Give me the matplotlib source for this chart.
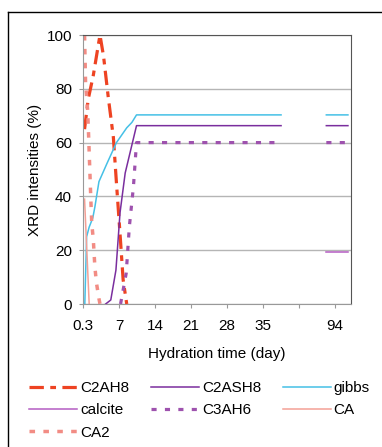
import matplotlib
matplotlib.use("Agg")
import matplotlib.pyplot as plt
from matplotlib.lines import Line2D
import numpy as np

nan = np.nan

# axis positions: 0..35 are days, 49 stands for day 94 (broken axis, Excel style)
tick_pos = [0, 7, 14, 21, 28, 35, 42, 49]
tick_labels = ["0.3", "7", "14", "21", "28", "35", "", "94"]

c2ah8_day = [0.3, 1.0, 2.0, 3.3, 4.0, 4.9, 5.9, 6.5, 7.2, 7.8, 8.5]
c2ah8_val = [65, 76, 85, 100, 92, 77, 62, 45, 26, 9, 0]

c2ash8_day = [4.4, 5.4, 6.4, 7.2, 8.2, 10.4, 38.5, nan, 47.3, 51.5]
c2ash8_val = [0, 1.5, 12.6, 34, 48.7, 66.3, 66.3, nan, 66.3, 66.3]

gibbs_day = [0.35, 0.7, 1.2, 1.9, 2.3, 3.1, 4.6, 6.5, 8.5, 9.5, 10.4, 38.5, nan, 47.3, 51.5]
gibbs_val = [0, 25, 28.6, 32, 36, 45.5, 52, 60, 65.5, 67.5, 70.3, 70.3, nan, 70.3, 70.3]

calcite_day = [47.3, 51.5]
calcite_val = [19.3, 19.3]

c3ah6_day = [7.3, 8.4, 9.0, 9.8, 10.4, 38.5, nan, 47.3, 51.5]
c3ah6_val = [0, 11.5, 28.6, 43.6, 60, 60, nan, 60, 60]

ca_day = [0.3, 1.2]
ca_val = [39, 0]

ca2_day = [0.3, 0.5, 0.9, 1.1, 1.3, 1.5, 1.7, 2.0, 2.3, 2.6, 3.1, 3.3]
ca2_val = [100, 82, 72, 62, 51, 40, 30, 24, 14, 8, 2, 0]

plt.rcParams['font.family'] = ['Liberation Sans', 'DejaVu Sans']
plt.rcParams['font.size'] = 11

fig = plt.figure(figsize=(3.82, 4.47), dpi=100)
ax = fig.add_axes([0.2173, 0.3199, 0.7016, 0.6018])

ax.plot(c2ah8_day, c2ah8_val, color="#EE4322", lw=2.3, linestyle=(0, (4.5, 2, 1.8, 2)), label="C2AH8")
ax.plot(c2ash8_day, c2ash8_val, color="#7A2E9E", lw=1.1, label="C2ASH8")
ax.plot(gibbs_day, gibbs_val, color="#45C0E6", lw=1.1, label="gibbs")
ax.plot(calcite_day, calcite_val, color="#B45CC2", lw=1.1, label="calcite")
ax.plot(c3ah6_day, c3ah6_val, color="#9E52AE", lw=2.3, linestyle=(0, (1.6, 2.6)), label="C3AH6")
ax.plot(ca_day, ca_val, color="#F4A096", lw=1.1, label="CA")
ax.plot(ca2_day, ca2_val, color="#F28C84", lw=2.5, linestyle=(0, (1.6, 2.4)), label="CA2")

ax.set_xlim(0, 52.1)
ax.set_ylim(0, 100)
ax.set_xticks(tick_pos)
ax.set_xticklabels(tick_labels)
ax.set_yticks([0, 20, 40, 60, 80, 100])
ax.yaxis.grid(True, color="#B5B5B5", lw=1)
ax.set_axisbelow(True)
ax.tick_params(axis='x', length=3, width=0.8, color="#999999", pad=8)
ax.tick_params(axis='y', length=3, width=0.8, color="#999999", pad=5)
for s in ["left", "bottom"]:
    ax.spines[s].set_color("#999999")
for s in ["top", "right"]:
    ax.spines[s].set_color("#555555")

ax.set_xlabel("Hydration time (day)", labelpad=10)
ax.set_ylabel("XRD intensities (%)", labelpad=3)

# legend: fill column-wise so rows read like the original
order = [0, 3, 6, 1, 4, 2, 5]
h, l = ax.get_legend_handles_labels()
fig.legend([h[i] for i in order], [l[i] for i in order], ncol=3, frameon=False,
           loc='upper left', bbox_to_anchor=(29 / 382, 1 - 381 / 447),
           borderpad=0, borderaxespad=0, handlelength=3.15, handletextpad=0.2,
           labelspacing=0.55, columnspacing=1.4)

# outer chart frame
fig.add_artist(Line2D([8 / 382, 1.0], [1 - 12 / 447] * 2, transform=fig.transFigure, color="black", lw=1))
fig.add_artist(Line2D([8 / 382] * 2, [0, 1 - 12 / 447], transform=fig.transFigure, color="black", lw=1))

fig.savefig("out.png", dpi=100)
